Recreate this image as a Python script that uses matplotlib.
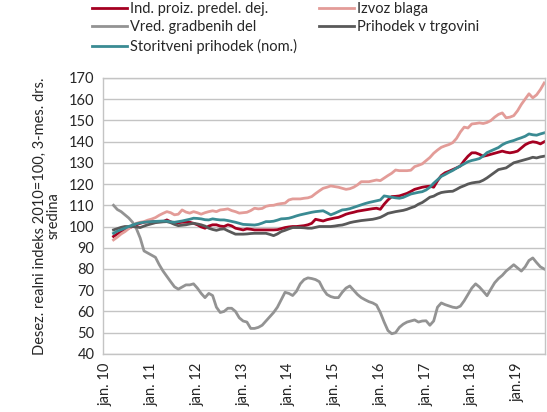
import matplotlib.pyplot as plt
import numpy as np

plt.rcParams['font.family'] = ['Lato', 'DejaVu Sans']

# month positions relative to jan. 2010 (3-month moving average starts in march)
months = np.arange(2, 116)

tick_pos = [0, 12, 24, 36, 48, 60, 72, 84, 96, 108]
tick_labels = ["jan. 10", "jan. 11", "jan. 12", "jan. 13", "jan. 14",
               "jan. 15", "jan. 16", "jan. 17", "jan. 18", "jan.19"]

ind_proiz = [
    95.3, 96.5, 97.5, 98.4, 99.3, 100, 100.8, 101.5, 102, 102.2,
    102.3, 102.3, 102.3, 102.3, 103.1, 102.2, 101.5, 101.8, 102, 102,
    102, 101.5, 100.8, 99.8, 99.2, 100.2, 100.8, 100.8, 100.2, 100,
    100.8, 100.3, 99.2, 98.8, 98.4, 98.9, 98.7, 98.4, 98.4, 98.4,
    98.4, 98.4, 98.4, 98.5, 99, 99.5, 99.8, 100, 100, 100.2,
    100.4, 100.8, 101.5, 103.4, 103, 102.6, 103.2, 103.6, 104, 104.3,
    105, 105.8, 106.3, 106.7, 107.2, 107.5, 107.8, 108.1, 108.4, 108.6,
    108.1, 110.5, 112.5, 114.1, 114.2, 114.4, 115, 115.6, 116.5, 117.5,
    118, 118.5, 118.8, 119, 118.5, 121.5, 124, 125.3, 126, 126.8,
    127.6, 128.5, 131, 133.1, 134.7, 134.7, 134, 133.1, 133.5, 134,
    134.5, 135, 135.5, 135, 134.7, 135, 135.5, 137, 138.5, 139.4,
    139.9, 139.6, 138.9, 139.9]

izvoz = [
    93.7, 95, 96.5, 97.6, 99, 100.5, 101.5, 102, 102.3, 103,
    103.5, 104.2, 105.3, 106.2, 107, 106.5, 105.5, 105.8, 107.8, 106.8,
    106.3, 107, 106.5, 105.8, 106.5, 107, 107.4, 107, 107.8, 108,
    108.3, 107.5, 107, 106.3, 106.5, 106.7, 107.5, 108.6, 108.3, 108.5,
    109.5, 109.9, 110, 110.5, 110.8, 111, 112.5, 113, 113, 113,
    113.3, 113.5, 114.1, 115.5, 116.8, 118, 118.5, 119.1, 118.8, 118.5,
    118, 117.5, 117.8, 118.5, 119.6, 121.1, 121.1, 121.1, 121.5, 121.9,
    121.6, 122.8, 124, 125.1, 126.6, 126.3, 126.3, 126.3, 126.5, 128.2,
    128.8, 129.5, 131, 132.5, 134.5, 136, 137.3, 138, 138.6, 139.5,
    141.5, 144.5, 146.8, 146.4, 148.3, 148.5, 148.8, 148.5, 149, 149.9,
    151.5, 152.8, 153.5, 151.2, 151.5, 152.2, 154.5, 157.5, 160, 162.5,
    160.6, 162, 164.5, 167.6]

gradbena = [
    110, 108, 107, 105.5, 104, 102, 99, 94.6, 88.5, 87.5,
    86.5, 85.5, 82, 79, 76.5, 74, 71.6, 70.5, 71.5, 72.5,
    72.5, 73, 71, 68.5, 66.5, 68.5, 67.5, 62, 59.5, 60,
    61.5, 61.5, 60, 57, 55.5, 55, 52, 52, 52.5, 53.5,
    55.5, 57.5, 59.5, 62, 65.5, 69, 68.5, 67.5, 69.5, 73,
    75, 75.8, 75.5, 75, 74, 70.5, 68, 67, 66.5, 66.5,
    69, 71, 72, 70, 68, 66.5, 65.5, 64.6, 64, 63,
    59.5, 55, 51, 49.5, 50, 52.5, 54, 55, 55.5, 56,
    55, 55.5, 55.6, 53.5, 55.5, 62, 64, 63.2, 62.6, 62,
    61.7, 62.5, 65, 68, 71, 73, 71.5, 69.5, 67.4, 70.5,
    73.5, 75.5, 77, 79, 80.5, 82, 80.5, 79, 81, 84,
    85.2, 83, 81, 80]

trgovina = [
    98.4, 99, 99.6, 100, 100, 100, 99.8, 99.5, 100.2, 100.8,
    101.3, 101.8, 102, 102.2, 102.3, 101.8, 101, 100.4, 100.6, 100.8,
    101.2, 101.5, 101.2, 100.8, 100.2, 99.2, 98.6, 98.2, 98.7, 98.9,
    98, 97.2, 96.4, 96.4, 96.4, 96.5, 96.7, 96.8, 96.8, 96.8,
    96.8, 96.3, 95.7, 96.5, 97.6, 98.2, 98.9, 99.5, 99.5, 99.5,
    99.4, 99.2, 99.2, 99.6, 100, 100, 100, 100, 100.2, 100.5,
    100.7, 101.2, 101.8, 102.2, 102.5, 102.8, 103, 103.2, 103.4, 103.8,
    104.3, 105.2, 106.2, 106.6, 107, 107.3, 107.6, 108.1, 108.8, 109.4,
    110.5, 111.3, 112.5, 113.8, 114.3, 115.3, 116, 116.3, 116.5, 116.6,
    117.5, 118.5, 119.2, 120, 120.5, 120.8, 121, 121.8, 122.9, 124.2,
    125.5, 126.8, 127.2, 127.6, 128.8, 130, 130.5, 131, 131.5, 132,
    132.6, 132.3, 132.8, 133.1]

storitve = [
    96.8, 97.8, 98.5, 99.2, 100, 100.7, 101.3, 101.7, 102, 102.2,
    102.3, 102.4, 102.5, 102.6, 102.5, 102.2, 102, 102.3, 102.6, 103,
    103.4, 103.9, 103.8, 103.6, 103.2, 103.1, 103.6, 103.3, 103.1, 103.1,
    102.8, 102.4, 102, 101.5, 101, 100.9, 100.8, 100.7, 101, 101.6,
    102.3, 102.3, 102.5, 103, 103.6, 103.7, 103.9, 104.4, 105, 105.5,
    105.9, 106.3, 106.7, 107, 107.2, 107.4, 106.5, 105.5, 106.2, 107,
    107.8, 108, 108.4, 109, 109.6, 110.2, 110.8, 111.3, 111.7, 112.1,
    112.5, 114.4, 114.1, 113.8, 113.5, 113.3, 113.7, 114.5, 115.3, 115.7,
    116.1, 116.4, 117.2, 118.5, 120.4, 122, 123.6, 124.5, 125.5, 126.4,
    127.5, 128.5, 129.5, 130.5, 131.1, 131.5, 132, 133.2, 134.8, 135.6,
    136.4, 137.2, 138.5, 139.4, 140, 140.5, 141.2, 141.8, 142.5, 143.6,
    143.2, 143, 143.6, 144.1]

fig = plt.figure(figsize=(5.47, 4.12), dpi=100)
ax = fig.add_axes([0.188, 0.141, 0.809, 0.670])

lw = 2.0
l_ind, = ax.plot(months, ind_proiz, color="#a50021", lw=lw, label="Ind. proiz. predel. dej.")
l_izv, = ax.plot(months, izvoz, color="#e39c98", lw=lw, label="Izvoz blaga")
l_gra, = ax.plot(months, gradbena, color="#939393", lw=lw, label="Vred. gradbenih del")
l_trg, = ax.plot(months, trgovina, color="#595959", lw=lw, label="Prihodek v trgovini")
l_sto, = ax.plot(months, storitve, color="#3a8b93", lw=lw, label="Storitveni prihodek (nom.)")

ax.set_ylim(40, 170)
ax.set_yticks(np.arange(40, 171, 10))
ax.set_xlim(-0.8, 115.3)
ax.set_xticks(tick_pos)
ax.set_xticklabels(tick_labels, rotation=90)
ax.tick_params(length=0, labelsize=10.5, colors="#262626", pad=6)
ax.grid(axis="y", color="#c4c4c4", lw=1)
ax.set_axisbelow(True)
for s in ax.spines.values():
    s.set_color("#c4c4c4")
    s.set_linewidth(1)

ax.set_ylabel("Desez. realni indeks 2010=100, 3-mes. drs.\nsredina",
              fontsize=10.5, color="#262626", labelpad=6, linespacing=1.0)

fig.legend(handles=[l_ind, l_gra, l_sto, l_izv, l_trg], ncol=2,
           loc="upper left", bbox_to_anchor=(92 / 547, 1 - 2 / 412),
           frameon=False, fontsize=10.5, borderpad=0, borderaxespad=0,
           handlelength=2.4, handletextpad=0.2, labelspacing=0.3,
           columnspacing=1.5, labelcolor="#262626")

fig.savefig("out.png", dpi=100)
